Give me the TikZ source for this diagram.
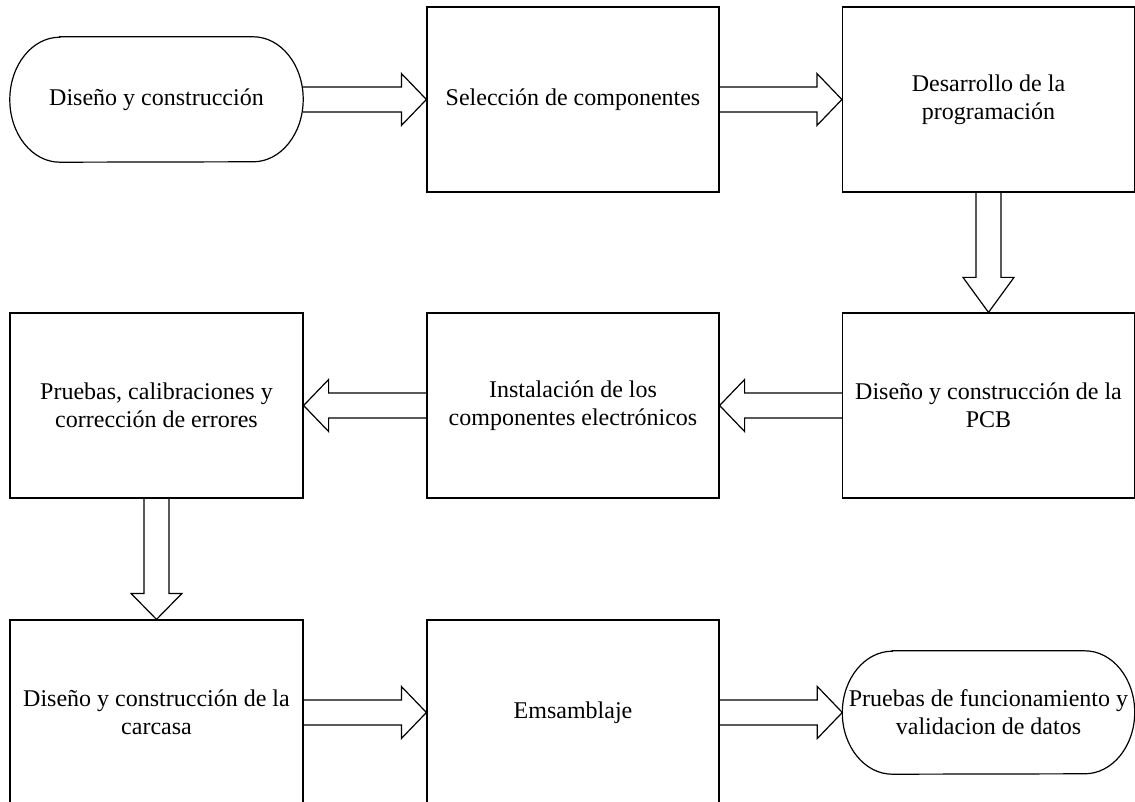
\documentclass[tikz,border=0pt]{standalone}
\usepackage{fontspec}
\setmainfont{Liberation Serif}
\newcommand\blockR[2]{%
  \draw[lin] ([yshift=12.5pt]#1.east) -- ([xshift=-25pt,yshift=12.5pt]#2.west) -- ([xshift=-25pt,yshift=26pt]#2.west) -- (#2.west) -- ([xshift=-25pt,yshift=-26pt]#2.west) -- ([xshift=-25pt,yshift=-12.5pt]#2.west) -- ([yshift=-12.5pt]#1.east);}
\newcommand\blockL[2]{%
  \draw[lin] ([yshift=12.5pt]#1.west) -- ([xshift=25pt,yshift=12.5pt]#2.east) -- ([xshift=25pt,yshift=26pt]#2.east) -- (#2.east) -- ([xshift=25pt,yshift=-26pt]#2.east) -- ([xshift=25pt,yshift=-12.5pt]#2.east) -- ([yshift=-12.5pt]#1.west);}
\newcommand\blockD[3]{%
  \draw[lin] ([xshift=-12.5pt]#1.south) -- ([xshift=-12.5pt,yshift=#3]#2.north) -- ([xshift=-25.5pt,yshift=#3]#2.north) -- (#2.north) -- ([xshift=25.5pt,yshift=#3]#2.north) -- ([xshift=12.5pt,yshift=#3]#2.north) -- ([xshift=12.5pt]#1.south);}
\newcommand\termoutline[3]{% node, x radius, y radius
  \draw[lin] ([xshift=#2]#1.north west) -- ([xshift=-#2]#1.north east) arc[start angle=90,end angle=-90,x radius=#2,y radius=#3] -- ([xshift=#2]#1.south west) arc[start angle=270,end angle=90,x radius=#2,y radius=#3] -- cycle;}
\begin{document}
\begin{tikzpicture}[x=1pt,y=1pt,
  lin/.style={line width=1.2pt, line join=miter},
  txt/.style={inner sep=0pt, align=center, font=\fontsize{24}{28}\selectfont},
  box/.style={txt, draw, lin, minimum width=292pt, minimum height=185pt},
  term/.style={txt, minimum width=293pt, minimum height=125pt}]
\useasboundingbox (0,0) rectangle (1135,-802);
\fill[white] (0,0) rectangle (1135,-802);
\clip (0,0) rectangle (1135,-802);
% row 1
\node[term] (ini) at (156.5,-99.5) {Diseño y construcción};
\termoutline{ini}{50pt}{62.5pt}
\node[box] (sel) at (573,-99.5) {Selección de componentes};
\node[box] (des) at (988.5,-99.5) {Desarrollo de la\\programación};
% row 2
\node[box, minimum width=293pt] (pru) at (156.5,-405.5) {Pruebas, calibraciones y\\corrección de errores};
\node[box] (ins) at (573,-405.5) {Instalación de los\\componentes electrónicos};
\node[box] (pcb) at (988.5,-405.5) {Diseño y construcción de la\\PCB};
% row 3
\node[box, minimum width=293pt] (car) at (156.5,-712.5) {Diseño y construcción de la\\carcasa};
\node[box] (ems) at (573,-712.5) {Emsamblaje};
\node[term, minimum width=292pt, minimum height=123pt] (fin) at (988.5,-712.5) {Pruebas de funcionamiento y\\validacion de datos};
\termoutline{fin}{50pt}{61.5pt}
% connectors
\blockR{ini}{sel}
\blockR{sel}{des}
\blockD{des}{pcb}{35pt}
\blockL{pcb}{ins}
\blockL{ins}{pru}
\blockD{pru}{car}{26pt}
\blockR{car}{ems}
\blockR{ems}{fin}
\end{tikzpicture}
\end{document}
